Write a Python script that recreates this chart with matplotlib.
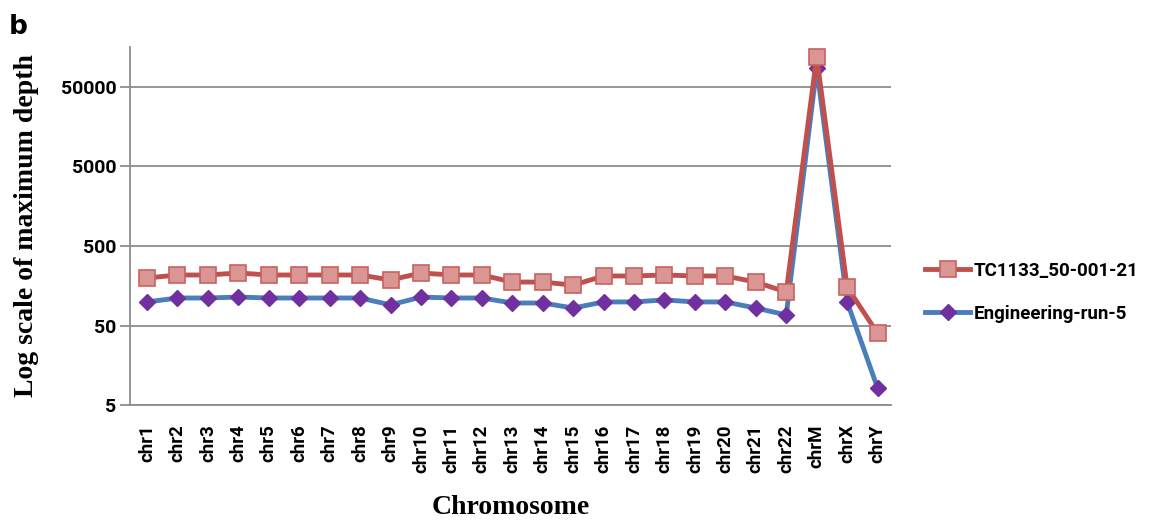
import numpy as np
import matplotlib.pyplot as plt

chromosomes = ['chr1', 'chr2', 'chr3', 'chr4', 'chr5', 'chr6', 'chr7', 'chr8', 'chr9',
               'chr10', 'chr11', 'chr12', 'chr13', 'chr14', 'chr15', 'chr16', 'chr17',
               'chr18', 'chr19', 'chr20', 'chr21', 'chr22', 'chrM', 'chrX', 'chrY']
tc1133 = [198, 216, 216, 229, 216, 216, 216, 216, 187, 229, 216, 216, 176,
          176, 161, 210, 210, 216, 210, 210, 176, 132, 120000, 152, 40]
eng_run5 = [99, 111, 111, 114, 111, 111, 111, 111, 91, 114, 111, 111, 96,
            96, 83, 99, 99, 105, 99, 99, 83, 68, 87000, 99, 8.2]
yticks = [5, 50, 500, 5000, 50000]

sans = 'Roboto'

fig = plt.figure(figsize=(11.53, 5.22), dpi=100)
ax = fig.add_axes([0.113, 0.224, 0.660, 0.686])

x = np.arange(len(chromosomes))
ax.plot(x, tc1133, color='#C0504D', lw=3.5, marker='s', markersize=12,
        markerfacecolor='#D99694', markeredgecolor='#C9625F', markeredgewidth=1.2,
        label='TC1133_50-001-21', zorder=3)
ax.plot(x, eng_run5, color='#4A7EBB', lw=3.5, marker='D', markersize=8,
        markerfacecolor='#7030A0', markeredgecolor='#7030A0',
        label='Engineering-run-5', zorder=2)

ax.set_yscale('log')
ax.set_ylim(5, 159000)
ax.set_xlim(-0.55, 24.45)
ax.set_yticks(yticks)
ax.set_yticklabels([str(v) for v in yticks])
ax.minorticks_off()
ax.yaxis.grid(True, color='#8C8C8C', lw=1.3)
ax.set_axisbelow(True)

ax.set_xticks(x)
ax.set_xticklabels(chromosomes, rotation=90, fontsize=13.5, fontweight='bold',
                   family=sans)
for t in ax.get_yticklabels():
    t.set_fontsize(14)
    t.set_fontweight('bold')
    t.set_family(sans)
ax.tick_params(axis='x', length=0, pad=14)
ax.tick_params(axis='y', length=7, color='#8C8C8C', width=1.3, pad=3)

for s in ['top', 'right']:
    ax.spines[s].set_visible(False)
ax.spines['left'].set_color('#8C8C8C')
ax.spines['bottom'].set_color('#8C8C8C')
ax.spines['left'].set_linewidth(1.3)
ax.spines['bottom'].set_linewidth(1.3)

ax.set_xlabel('Chromosome', fontsize=20, fontweight='bold', family='Liberation Serif',
              labelpad=16)
ax.set_ylabel('Log scale of maximum depth', fontsize=20, fontweight='bold',
              family='Liberation Serif', labelpad=16)

fig.text(0.008, 0.935, 'b', fontsize=19, fontweight='bold', family='DejaVu Sans')

leg = fig.legend(loc='center left', bbox_to_anchor=(0.788, 0.44), frameon=False,
                 prop={'family': sans, 'weight': 'bold', 'size': 13.5},
                 handlelength=2.4, labelspacing=1.35, handletextpad=0.15)

fig.savefig('out.png', dpi=100)
